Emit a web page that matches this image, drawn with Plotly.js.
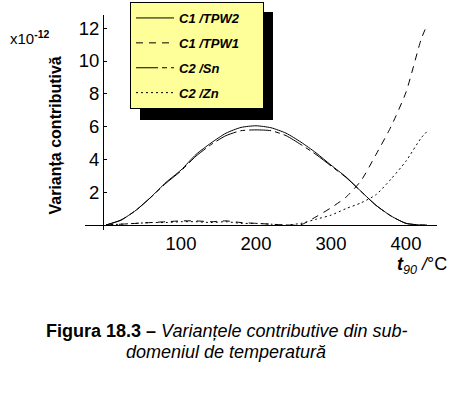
<!DOCTYPE html>
<html>
<head>
<meta charset="utf-8">
<script src="https://cdn.plot.ly/plotly-3.0.1.min.js"></script>
<style>html,body{margin:0;padding:0;background:#fff;}#chart{width:464px;height:398px;}</style>
</head>
<body>
<div id="chart"></div>
<script>
// Temperature t90 (°C)
const temps = [0, 20, 40, 60, 80, 100, 120, 140, 160, 180, 200, 220, 240, 260, 280, 300, 320, 340, 360, 380, 400, 420, 428];
// Contributive variances (x1e-12)
const c1TPW2 = [0, 0.3, 0.9, 1.7, 2.6, 3.35, 4.3, 5.0, 5.6, 5.95, 6.05, 5.93, 5.6, 5.05, 4.4, 3.65, 2.93, 2.05, 1.2, 0.55, 0.1, 0, 0];
const c1TPW1 = [0, 0.05, 0.1, 0.15, 0.2, 0.25, 0.25, 0.2, 0.25, 0.15, 0.1, 0.05, 0, 0.02, 0.5, 1.05, 1.7, 2.7, 4.3, 6.0, 8.1, 11.3, 12.2];
const c2Sn   = [0, 0.3, 0.9, 1.7, 2.55, 3.3, 4.2, 4.9, 5.45, 5.75, 5.8, 5.75, 5.45, 4.9, 4.3, 3.6, 2.9, 2.05, 1.2, 0.55, 0.1, 0, 0];
const c2Zn   = [0, 0.05, 0.1, 0.15, 0.15, 0.2, 0.2, 0.15, 0.2, 0.1, 0.1, 0.05, 0, 0.1, 0.35, 0.6, 1.0, 1.35, 1.85, 2.8, 3.9, 5.3, 5.7];
const seriesNames = ["C1 /TPW2", "C1 /TPW1", "C2 /Sn", "C2 /Zn"];
const xTicks = [100, 200, 300, 400];
const yTicks = [2, 4, 6, 8, 10, 12];

const W = 464, H = 398;
const px = v => v / W;
const py = v => (H - v) / H;
const FONT = "Arial, 'Liberation Sans', sans-serif";
const PAD = "\u00a0\u00a0\u00a0\u00a0\u00a0";

function tr(y, name, dash, grp) {
  return {
    x: temps, y: y, type: "scatter", mode: "lines",
    name: "<b><i>" + name + "</i></b>" + PAD,
    legendgroup: grp,
    line: {color: "#000", width: 1, dash: dash, shape: "spline", smoothing: 0.6}
  };
}
const data = [
  tr(c1TPW2, seriesNames[0], "solid", "a"),
  tr(c1TPW1, seriesNames[1], "7px,6px", "b"),
  tr(c2Sn, seriesNames[2], "22px,4px,5px,4px", "c"),
  tr(c2Zn, seriesNames[3], "2px,3px", "d")
];

const layout = {
  width: W, height: H, autosize: false,
  margin: {l: 0, r: 0, t: 0, b: 0, pad: 0},
  paper_bgcolor: "#fff", plot_bgcolor: "rgba(0,0,0,0)",
  font: {family: FONT, color: "#000"},
  showlegend: true,
  legend: {
    x: px(130), y: py(2), xanchor: "left", yanchor: "top",
    bgcolor: "#ffff99", bordercolor: "#000", borderwidth: 1,
    font: {family: FONT, size: 13, color: "#000"},
    traceorder: "grouped", tracegroupgap: 5, itemwidth: 38
  },
  xaxis: {
    domain: [px(85), px(437)], range: [-28, 441.3],
    showgrid: false, zeroline: false, showline: false,
    tickmode: "array", tickvals: xTicks, ticktext: xTicks.map(String),
    ticks: "", tickfont: {family: FONT, size: 18.5, color: "#000"}
  },
  yaxis: {
    domain: [py(230), py(15)], range: [-0.305, 12.805],
    anchor: "free", position: px(103),
    showgrid: false, zeroline: true, zerolinecolor: "#000", zerolinewidth: 1,
    showline: true, linecolor: "#000", linewidth: 1,
    tickmode: "array", tickvals: yTicks, ticktext: yTicks.map(String),
    ticks: "inside", ticklen: 3, tickcolor: "#000",
    tickfont: {family: FONT, size: 18.5, color: "#000"}
  },
  shapes: [
    {type: "rect", xref: "paper", yref: "paper", x0: px(140), x1: px(273), y0: py(120), y1: py(12),
     fillcolor: "#000", line: {width: 0}, layer: "above"}
  ],
  annotations: [
    {xref: "paper", yref: "paper", x: px(44), y: py(136), text: "<b>Varianța contributivă</b>",
     textangle: -90, showarrow: false, font: {family: FONT, size: 16, color: "#000"}},
    {xref: "paper", yref: "paper", x: px(8), y: py(38), xanchor: "left", yanchor: "middle",
     text: "x10<sup><b>-12</b></sup>", showarrow: false, font: {family: FONT, size: 15, color: "#000"}},
    {xref: "paper", yref: "paper", x: px(395), y: py(265), xanchor: "left", yanchor: "middle",
     text: "<b><i>t</i></b><sub><i>90</i></sub> <i>/</i>°C", showarrow: false,
     font: {family: FONT, size: 18, color: "#000"}},
    {xref: "paper", yref: "paper", x: px(227), y: py(331), xanchor: "center", yanchor: "middle",
     text: "<b>Figura 18.3 – </b><i>Varianțele contributive din sub-</i>", showarrow: false,
     font: {family: FONT, size: 18, color: "#000"}},
    {xref: "paper", yref: "paper", x: px(226), y: py(352), xanchor: "center", yanchor: "middle",
     text: "<i>domeniul de temperatură</i>", showarrow: false,
     font: {family: FONT, size: 18, color: "#000"}}
  ]
};

Plotly.newPlot("chart", data, layout, {staticPlot: true, displayModeBar: false});
</script>
</body>
</html>
